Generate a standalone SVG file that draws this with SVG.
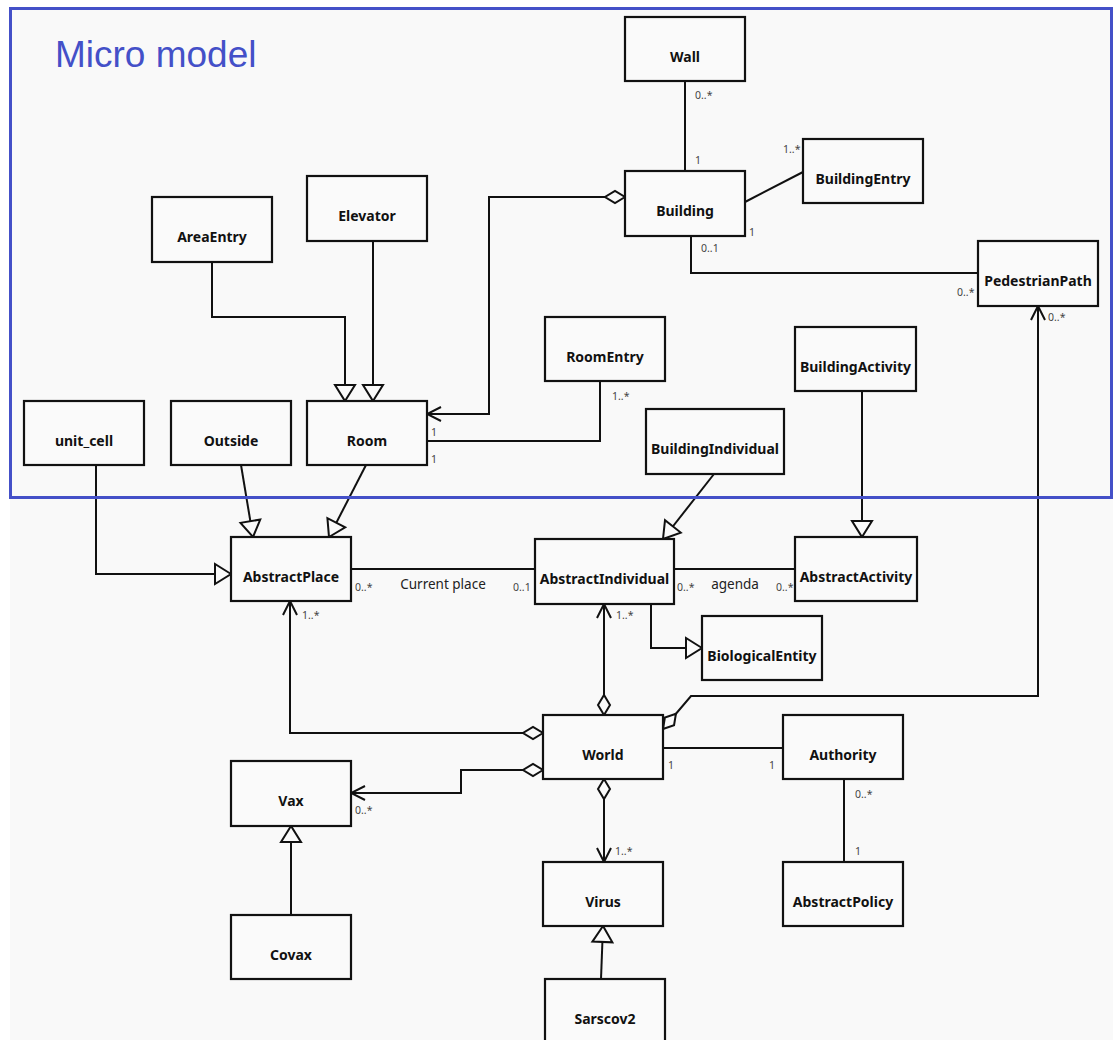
<svg xmlns="http://www.w3.org/2000/svg" width="1117" height="1040" viewBox="0 0 1117 1040">
<defs>
<style>
.node rect{fill:#fafafa;stroke:#111;stroke-width:2.2}
.node text{font-family:"Noto Sans","DejaVu Sans",sans-serif;font-weight:bold;font-size:14px;fill:#111;text-anchor:middle}
.edge{fill:none;stroke:#111;stroke-width:2}
.m{font-family:"Noto Sans","DejaVu Sans",sans-serif;font-size:10.5px;fill:#444}
.lbl{font-family:"Noto Sans","DejaVu Sans",sans-serif;font-size:13.5px;fill:#222;text-anchor:middle}
</style>
<marker id="tri" markerUnits="userSpaceOnUse" viewBox="-19 -12 21 24" markerWidth="21" markerHeight="24" refX="0" refY="0" orient="auto">
<path d="M0,0 L-16,-10 L-16,10 Z" fill="#fafafa" stroke="#111" stroke-width="2" stroke-linejoin="miter"/>
</marker>
<marker id="arr" markerUnits="userSpaceOnUse" viewBox="-17 -10 19 20" markerWidth="19" markerHeight="20" refX="0" refY="0" orient="auto">
<path d="M-14,-7 L0,0 L-14,7" fill="none" stroke="#111" stroke-width="2"/>
</marker>
<marker id="dia" markerUnits="userSpaceOnUse" viewBox="-2 -8 24 16" markerWidth="24" markerHeight="16" refX="0" refY="0" orient="auto">
<path d="M0,0 L10,-6 L20,0 L10,6 Z" fill="#fafafa" stroke="#111" stroke-width="2"/>
</marker>
</defs>
<rect x="0" y="0" width="1117" height="1040" fill="#ffffff"/>
<rect x="10" y="7" width="1103" height="1033" fill="#f9f9f9"/>
<text x="55" y="67" font-family="Liberation Sans, Arial, sans-serif" font-size="37" fill="#4450c8">Micro model</text>
<g id="connectors">
<path class="edge" d="M685,81 V171"/>
<path class="edge" d="M745,202 L803,172"/>
<path class="edge" d="M691,236 V273 H978"/>
<path class="edge" d="M625,197 H489 V414 H427" marker-start="url(#dia)" marker-end="url(#arr)"/>
<path class="edge" d="M600,381 V441 H427"/>
<path class="edge" d="M212,262 V317 H345 V401" marker-end="url(#tri)"/>
<path class="edge" d="M373,241 V401" marker-end="url(#tri)"/>
<path class="edge" d="M96,465 V574 H231" marker-end="url(#tri)"/>
<path class="edge" d="M241,465 L253,537" marker-end="url(#tri)"/>
<path class="edge" d="M366,465 L329,537" marker-end="url(#tri)"/>
<path class="edge" d="M714,474 L663,539" marker-end="url(#tri)"/>
<path class="edge" d="M862,391 V537" marker-end="url(#tri)"/>
<path class="edge" d="M351,569 H535"/>
<path class="edge" d="M674,569 H795"/>
<path class="edge" d="M651,604 V648 H702" marker-end="url(#tri)"/>
<path class="edge" d="M604,715 V604" marker-start="url(#dia)" marker-end="url(#arr)"/>
<path class="edge" d="M543,733 H290 V601" marker-start="url(#dia)" marker-end="url(#arr)"/>
<path class="edge" d="M543,770 H461 V793 H351" marker-start="url(#dia)" marker-end="url(#arr)"/>
<path class="edge" d="M604,779 V862" marker-start="url(#dia)" marker-end="url(#arr)"/>
<path class="edge" d="M291,915 V826" marker-end="url(#tri)"/>
<path class="edge" d="M601,979 L603,926" marker-end="url(#tri)"/>
<path class="edge" d="M663,748 H783"/>
<path class="edge" d="M844,779 V862"/>
<path class="edge" d="M663,729 L691,696 H1038 V306" marker-start="url(#dia)" marker-end="url(#arr)"/>
</g>
<g id="multiplicities">
<text class="m" x="695" y="99">0..*</text>
<text class="m" x="695" y="164">1</text>
<text class="m" x="783" y="153">1..*</text>
<text class="m" x="749" y="236">1</text>
<text class="m" x="701" y="252">0..1</text>
<text class="m" x="957" y="296">0..*</text>
<text class="m" x="1048" y="321">0..*</text>
<text class="m" x="431" y="436">1</text>
<text class="m" x="431" y="463">1</text>
<text class="m" x="612" y="400">1..*</text>
<text class="m" x="355" y="591">0..*</text>
<text class="lbl" x="443" y="589">Current place</text>
<text class="m" x="513" y="591">0..1</text>
<text class="m" x="677" y="591">0..*</text>
<text class="lbl" x="735" y="589">agenda</text>
<text class="m" x="776" y="591">0..*</text>
<text class="m" x="302" y="619">1..*</text>
<text class="m" x="616" y="619">1..*</text>
<text class="m" x="355" y="814">0..*</text>
<text class="m" x="615" y="855">1..*</text>
<text class="m" x="668" y="769">1</text>
<text class="m" x="769" y="769">1</text>
<text class="m" x="855" y="798">0..*</text>
<text class="m" x="855" y="855">1</text>
</g>
<g id="Wall" class="node"><rect x="625" y="17" width="120" height="64"/><text x="685" y="62">Wall</text></g>
<g id="Building" class="node"><rect x="625" y="171" width="120" height="65"/><text x="685" y="216">Building</text></g>
<g id="BuildingEntry" class="node"><rect x="803" y="139" width="120" height="64"/><text x="863" y="184">BuildingEntry</text></g>
<g id="PedestrianPath" class="node"><rect x="978" y="241" width="120" height="65"/><text x="1038" y="286">PedestrianPath</text></g>
<g id="AreaEntry" class="node"><rect x="152" y="197" width="120" height="65"/><text x="212" y="242">AreaEntry</text></g>
<g id="Elevator" class="node"><rect x="307" y="176" width="120" height="65"/><text x="367" y="221">Elevator</text></g>
<g id="RoomEntry" class="node"><rect x="545" y="317" width="120" height="64"/><text x="605" y="362">RoomEntry</text></g>
<g id="BuildingActivity" class="node"><rect x="795" y="327" width="121" height="64"/><text x="855.5" y="372">BuildingActivity</text></g>
<g id="BuildingIndividual" class="node"><rect x="646" y="409" width="138" height="65"/><text x="715" y="454">BuildingIndividual</text></g>
<g id="unit_cell" class="node"><rect x="24" y="401" width="120" height="64"/><text x="84" y="446">unit_cell</text></g>
<g id="Outside" class="node"><rect x="171" y="401" width="120" height="64"/><text x="231" y="446">Outside</text></g>
<g id="Room" class="node"><rect x="307" y="401" width="120" height="64"/><text x="367" y="446">Room</text></g>
<g id="AbstractPlace" class="node"><rect x="231" y="537" width="120" height="64"/><text x="291" y="582">AbstractPlace</text></g>
<g id="AbstractIndividual" class="node"><rect x="535" y="539" width="139" height="65"/><text x="604.5" y="584">AbstractIndividual</text></g>
<g id="AbstractActivity" class="node"><rect x="795" y="537" width="122" height="64"/><text x="856" y="582">AbstractActivity</text></g>
<g id="BiologicalEntity" class="node"><rect x="702" y="616" width="120" height="64"/><text x="762" y="661">BiologicalEntity</text></g>
<g id="World" class="node"><rect x="543" y="715" width="120" height="64"/><text x="603" y="760">World</text></g>
<g id="Authority" class="node"><rect x="783" y="715" width="120" height="64"/><text x="843" y="760">Authority</text></g>
<g id="Vax" class="node"><rect x="231" y="761" width="120" height="65"/><text x="291" y="806">Vax</text></g>
<g id="Covax" class="node"><rect x="231" y="915" width="120" height="64"/><text x="291" y="960">Covax</text></g>
<g id="Virus" class="node"><rect x="543" y="862" width="120" height="64"/><text x="603" y="907">Virus</text></g>
<g id="AbstractPolicy" class="node"><rect x="783" y="862" width="120" height="64"/><text x="843" y="907">AbstractPolicy</text></g>
<g id="Sarscov2" class="node"><rect x="545" y="979" width="120" height="70"/><text x="605" y="1024">Sarscov2</text></g>
<rect x="10.5" y="8.5" width="1101" height="489" fill="none" stroke="#4450c8" stroke-width="3"/>
</svg>
